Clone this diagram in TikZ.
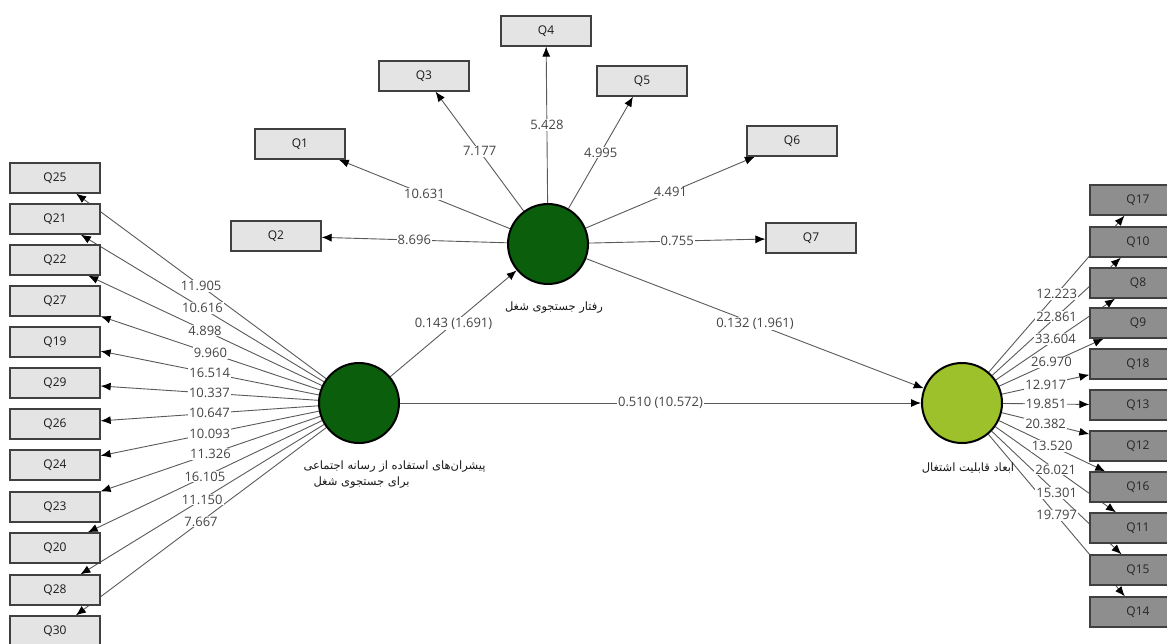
\documentclass[tikz,border=0pt]{standalone}
\usepackage{fontspec}
\setmainfont{Open Sans}
\newfontfamily\arabicfont[Script=Arabic]{DejaVu Sans}
\TeXXeTstate=1
\usetikzlibrary{arrows.meta,calc}
\pgfdeclarelayer{bg}
\pgfsetlayers{bg,main}
\definecolor{lightbox}{HTML}{E4E4E4}
\definecolor{darkbox}{HTML}{8E8E8E}
\definecolor{dgreen}{HTML}{0B5E0B}
\definecolor{lgreen}{HTML}{9DC12A}
\definecolor{linegray}{HTML}{5A5A5A}
\definecolor{numgray}{HTML}{444444}
\tikzset{
  ind/.style={draw=black!75, line width=1.3pt, fill=lightbox, minimum width=90pt, minimum height=30pt, inner sep=0pt, font=\fontsize{12}{14}\selectfont, text=black!90},
  indR/.style={ind, fill=darkbox, minimum width=96pt, text=black!85},
  lv/.style={circle, draw=black, line width=2pt, minimum size=80pt, inner sep=0pt},
  conn/.style={draw=linegray, line width=0.9pt, -{Latex[length=10pt,width=8pt,color=black]}},
  lbl/.style={fill=white, inner sep=1pt, text=numgray, font=\fontsize{13}{15}\selectfont},
  fa/.style={font=\arabicfont\fontsize{11.5}{16}\selectfont, text=black!90}
}
\begin{document}
\begin{tikzpicture}[x=1pt,y=-1pt]
\useasboundingbox (0,0) rectangle (1167,643);
\begin{pgfonlayer}{bg}
\fill[white] (0,0) rectangle (1167,643);
\end{pgfonlayer}

% latent variables
\node[lv, fill=dgreen] (ex) at (359,403) {};
\node[lv, fill=dgreen] (jsb) at (548,244) {};
\node[lv, fill=lgreen] (emp) at (962,403) {};

\node[fa, align=left, anchor=west] (exl) at (300,475) {\beginR پیشران‌های استفاده از رسانه اجتماعی\endR\\\hspace*{10pt}\beginR برای جستجوی شغل\endR};
\node[fa] (jsbl) at (554,308) {\beginR رفتار جستجوی شغل\endR};
\node[fa] (empl) at (968,468) {\beginR ابعاد قابلیت اشتغال\endR};

% top indicators
\node[ind] (q1) at (300,144) {Q1};
\node[ind] (q2) at (276,236) {Q2};
\node[ind] (q3) at (424,76) {Q3};
\node[ind] (q4) at (546,31) {Q4};
\node[ind] (q5) at (642,81) {Q5};
\node[ind] (q6) at (792,141) {Q6};
\node[ind] (q7) at (811,238) {Q7};

% left indicators
\foreach \n/\y in {25/178,21/219,22/260,27/301,19/342,29/383,26/424,24/465,23/507,20/548,28/590,30/631}
  \node[ind] (q\n) at (55,\y) {Q\n};

% right indicators
\foreach \n/\y in {17/200,10/242,8/283,9/323,18/364,13/405,12/446,16/487,11/528,15/570,14/612}
  \node[indR] (q\n) at (1138,\y) {Q\n};

% connectors
\begin{pgfonlayer}{bg}
\foreach \n in {1,...,7} \draw[conn] (jsb) -- (q\n);
\foreach \n in {25,21,22,27,19,29,26,24,23,20,28,30} \draw[conn] (ex) -- (q\n);
\foreach \n in {17,10,8,9,18,13,12,16,11,15,14} \draw[conn] (emp) -- (q\n);
\draw[conn] (ex) -- (jsb);
\draw[conn] (jsb) -- (emp);
\draw[conn] (ex) -- (emp);
\end{pgfonlayer}

% labels
\foreach \n/\v in {1/10.631,2/8.696,3/7.177,4/5.428,5/4.995,6/4.491,7/0.755}
  \path (jsb) -- (q\n) node[lbl, midway] {\v};
\foreach \n/\v in {25/11.905,21/10.616,22/4.898,27/9.960,19/16.514,29/10.337,26/10.647,24/10.093,23/11.326,20/16.105,28/11.150,30/7.667}
  \path (ex) -- (q\n) node[lbl, midway] {\v};
\foreach \n/\v in {17/12.223,10/22.861,8/33.604,9/26.970,18/12.917,13/19.851,12/20.382,16/13.520,11/26.021,15/15.301,14/19.797}
  \path (emp) -- (q\n) node[lbl, midway] {\v};
\path (ex) -- (jsb) node[lbl, midway] {0.143 (1.691)};
\path (jsb) -- (emp) node[lbl, midway] {0.132 (1.961)};
\path (ex) -- (emp) node[lbl, midway] {0.510 (10.572)};
\end{tikzpicture}
\end{document}
